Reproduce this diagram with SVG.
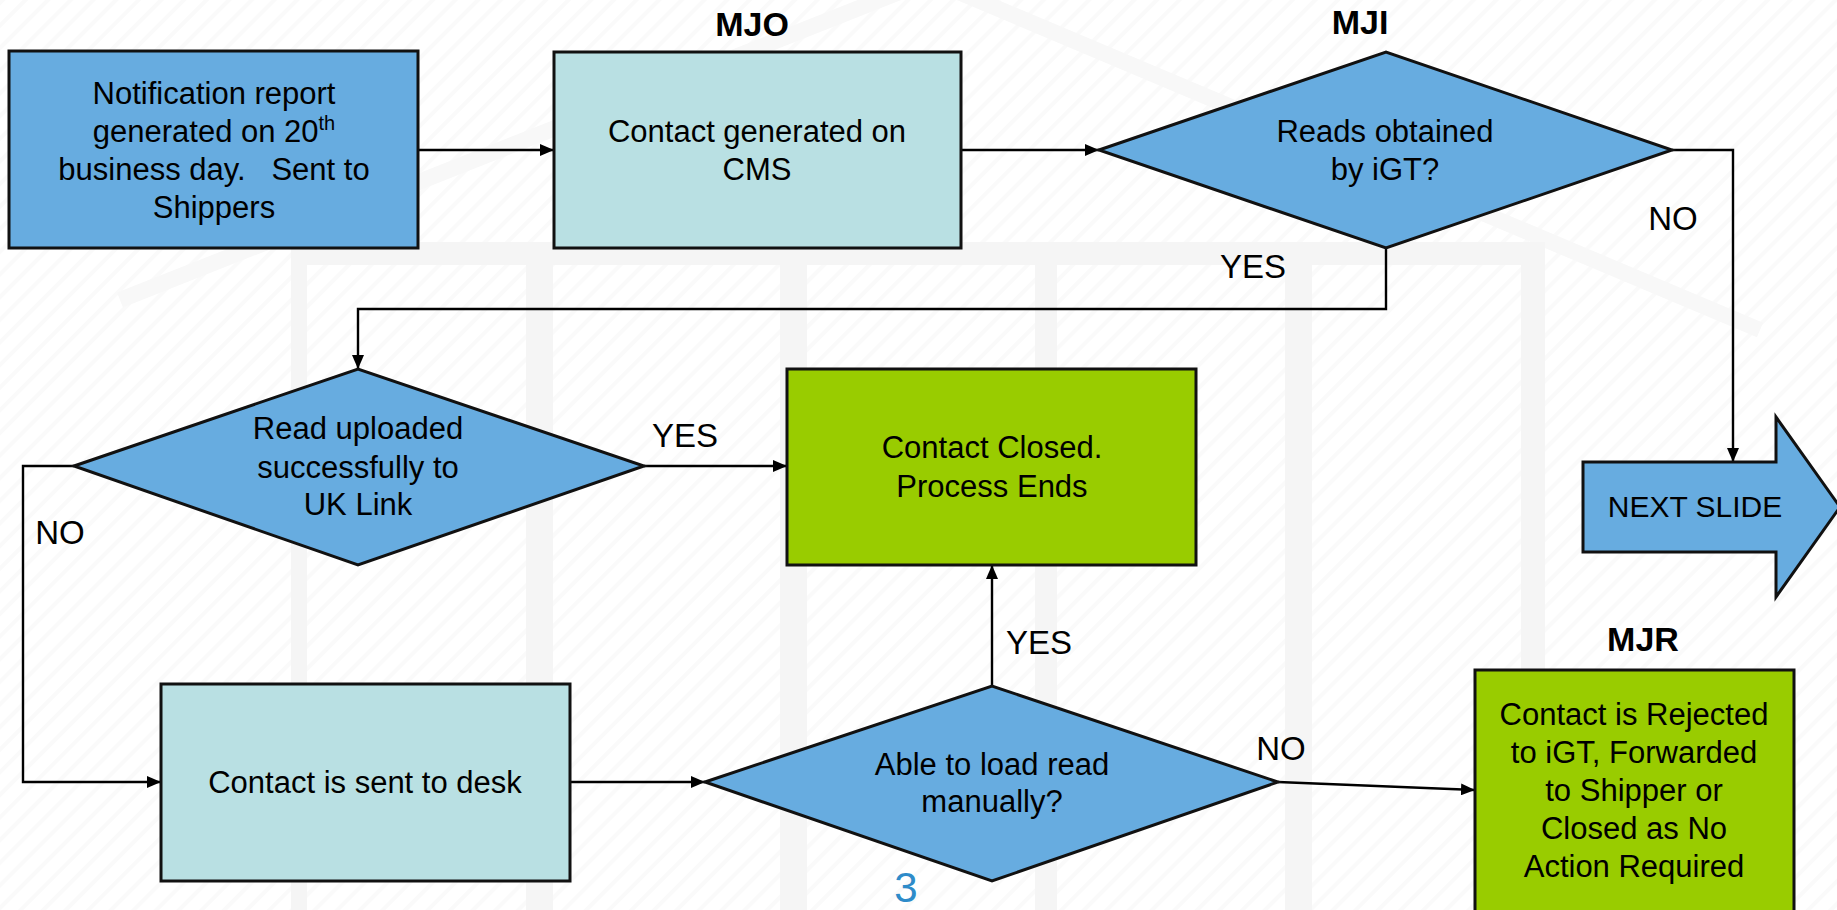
<svg xmlns="http://www.w3.org/2000/svg" width="1837" height="910" viewBox="0 0 1837 910">
<style>
  .box { stroke: #111; stroke-width: 3; }
  .blue { fill: #67ACE0; }
  .cyan { fill: #B9E0E3; }
  .green { fill: #99CC00; }
  .conn { fill: none; stroke: #000; stroke-width: 2.4; }
  .t { font-family: "Liberation Sans", Arial, sans-serif; font-size: 31px; fill: #000; text-anchor: middle; }
  .lbl { font-family: "Liberation Sans", Arial, sans-serif; font-size: 33px; fill: #000; text-anchor: middle; }
  .code { font-family: "Liberation Sans", Arial, sans-serif; font-size: 34px; font-weight: bold; fill: #000; text-anchor: middle; }
  .bg { fill: #f5f5f5; }
</style>
<defs>
  <pattern id="stripes" width="16" height="16" patternUnits="userSpaceOnUse" patternTransform="rotate(45)">
    <rect width="16" height="16" fill="#ffffff"/>
    <rect width="4" height="16" fill="#fafafa"/>
  </pattern>
  <marker id="arr" viewBox="0 0 14 12" refX="14" refY="6" markerWidth="14" markerHeight="12" markerUnits="userSpaceOnUse" orient="auto">
    <path d="M0,0 L14,6 L0,12 z" fill="#000"/>
  </marker>
</defs>

<g id="background">
  <rect width="1837" height="910" fill="url(#stripes)"/>
  <polyline points="120,300 930,-20 1760,330" fill="none" stroke="#f8f8f8" stroke-width="16"/>
  <rect x="291" y="242" width="1254" height="680" class="bg"/>
  <rect x="307" y="265" width="219" height="660" fill="url(#stripes)"/>
  <rect x="553" y="265" width="227" height="660" fill="url(#stripes)"/>
  <rect x="807" y="265" width="228" height="660" fill="url(#stripes)"/>
  <rect x="1057" y="265" width="228" height="660" fill="url(#stripes)"/>
  <rect x="1312" y="265" width="209" height="660" fill="url(#stripes)"/>
</g>

<g id="connectors">
  <line class="conn" x1="418" y1="150" x2="554" y2="150" marker-end="url(#arr)"/>
  <line class="conn" x1="961" y1="150" x2="1099" y2="150" marker-end="url(#arr)"/>
  <polyline class="conn" points="1672,150 1733,150 1733,462" marker-end="url(#arr)"/>
  <polyline class="conn" points="1386,248 1386,309 358,309 358,369" marker-end="url(#arr)"/>
  <line class="conn" x1="644" y1="466" x2="787" y2="466" marker-end="url(#arr)"/>
  <polyline class="conn" points="74,466 23,466 23,782 161,782" marker-end="url(#arr)"/>
  <line class="conn" x1="570" y1="782" x2="705" y2="782" marker-end="url(#arr)"/>
  <line class="conn" x1="992" y1="686" x2="992" y2="565" marker-end="url(#arr)"/>
  <line class="conn" x1="1278" y1="782" x2="1475" y2="790" marker-end="url(#arr)"/>
  <text class="lbl" x="1673" y="230">NO</text>
  <text class="lbl" x="1253" y="278">YES</text>
  <text class="lbl" x="685" y="447">YES</text>
  <text class="lbl" x="60" y="544">NO</text>
  <text class="lbl" x="1039" y="654">YES</text>
  <text class="lbl" x="1281" y="760">NO</text>
</g>

<g id="n-notification">
  <rect class="box blue" x="9" y="51" width="409" height="197"/>
  <text class="t" x="214" y="104">Notification report</text>
  <text class="t" x="214" y="142">generated on 20<tspan font-size="20" dy="-12">th</tspan></text>
  <text class="t" x="214" y="180" xml:space="preserve">business day.   Sent to</text>
  <text class="t" x="214" y="218">Shippers</text>
</g>

<g id="n-mjo">
  <text class="code" x="752" y="36">MJO</text>
  <rect class="box cyan" x="554" y="52" width="407" height="196"/>
  <text class="t" x="757" y="142">Contact generated on</text>
  <text class="t" x="757" y="180">CMS</text>
</g>

<g id="n-mji">
  <text class="code" x="1360" y="34">MJI</text>
  <polygon class="box blue" points="1099,150 1386,52 1672,150 1386,248"/>
  <text class="t" x="1385" y="142">Reads obtained</text>
  <text class="t" x="1385" y="180">by iGT?</text>
</g>

<g id="n-nextslide">
  <polygon class="box blue" points="1583,462 1776,462 1776,417 1840,507 1776,597 1776,552 1583,552"/>
  <text class="t" x="1695" y="517" style="font-size:30px">NEXT SLIDE</text>
</g>

<g id="n-uploaded">
  <polygon class="box blue" points="74,466 358,369 644,466 358,565"/>
  <text class="t" x="358" y="439">Read uploaded</text>
  <text class="t" x="358" y="478">successfully to</text>
  <text class="t" x="358" y="515">UK Link</text>
</g>

<g id="n-closed">
  <rect class="box green" x="787" y="369" width="409" height="196"/>
  <text class="t" x="992" y="458">Contact Closed.</text>
  <text class="t" x="992" y="497">Process Ends</text>
</g>

<g id="n-desk">
  <rect class="box cyan" x="161" y="684" width="409" height="197"/>
  <text class="t" x="365" y="793">Contact is sent to desk</text>
</g>

<g id="n-manual">
  <polygon class="box blue" points="705,782 992,686 1278,782 992,881"/>
  <text class="t" x="992" y="775">Able to load read</text>
  <text class="t" x="992" y="812">manually?</text>
</g>

<g id="n-mjr">
  <text class="code" x="1643" y="651">MJR</text>
  <rect class="box green" x="1475" y="670" width="319" height="250"/>
  <text class="t" x="1634" y="725">Contact is Rejected</text>
  <text class="t" x="1634" y="763">to iGT, Forwarded</text>
  <text class="t" x="1634" y="801">to Shipper or</text>
  <text class="t" x="1634" y="839">Closed as No</text>
  <text class="t" x="1634" y="877">Action Required</text>
</g>

<text x="906" y="902" font-family="Liberation Sans, Arial, sans-serif" font-size="42" fill="#2E8BC9" text-anchor="middle">3</text>
</svg>
